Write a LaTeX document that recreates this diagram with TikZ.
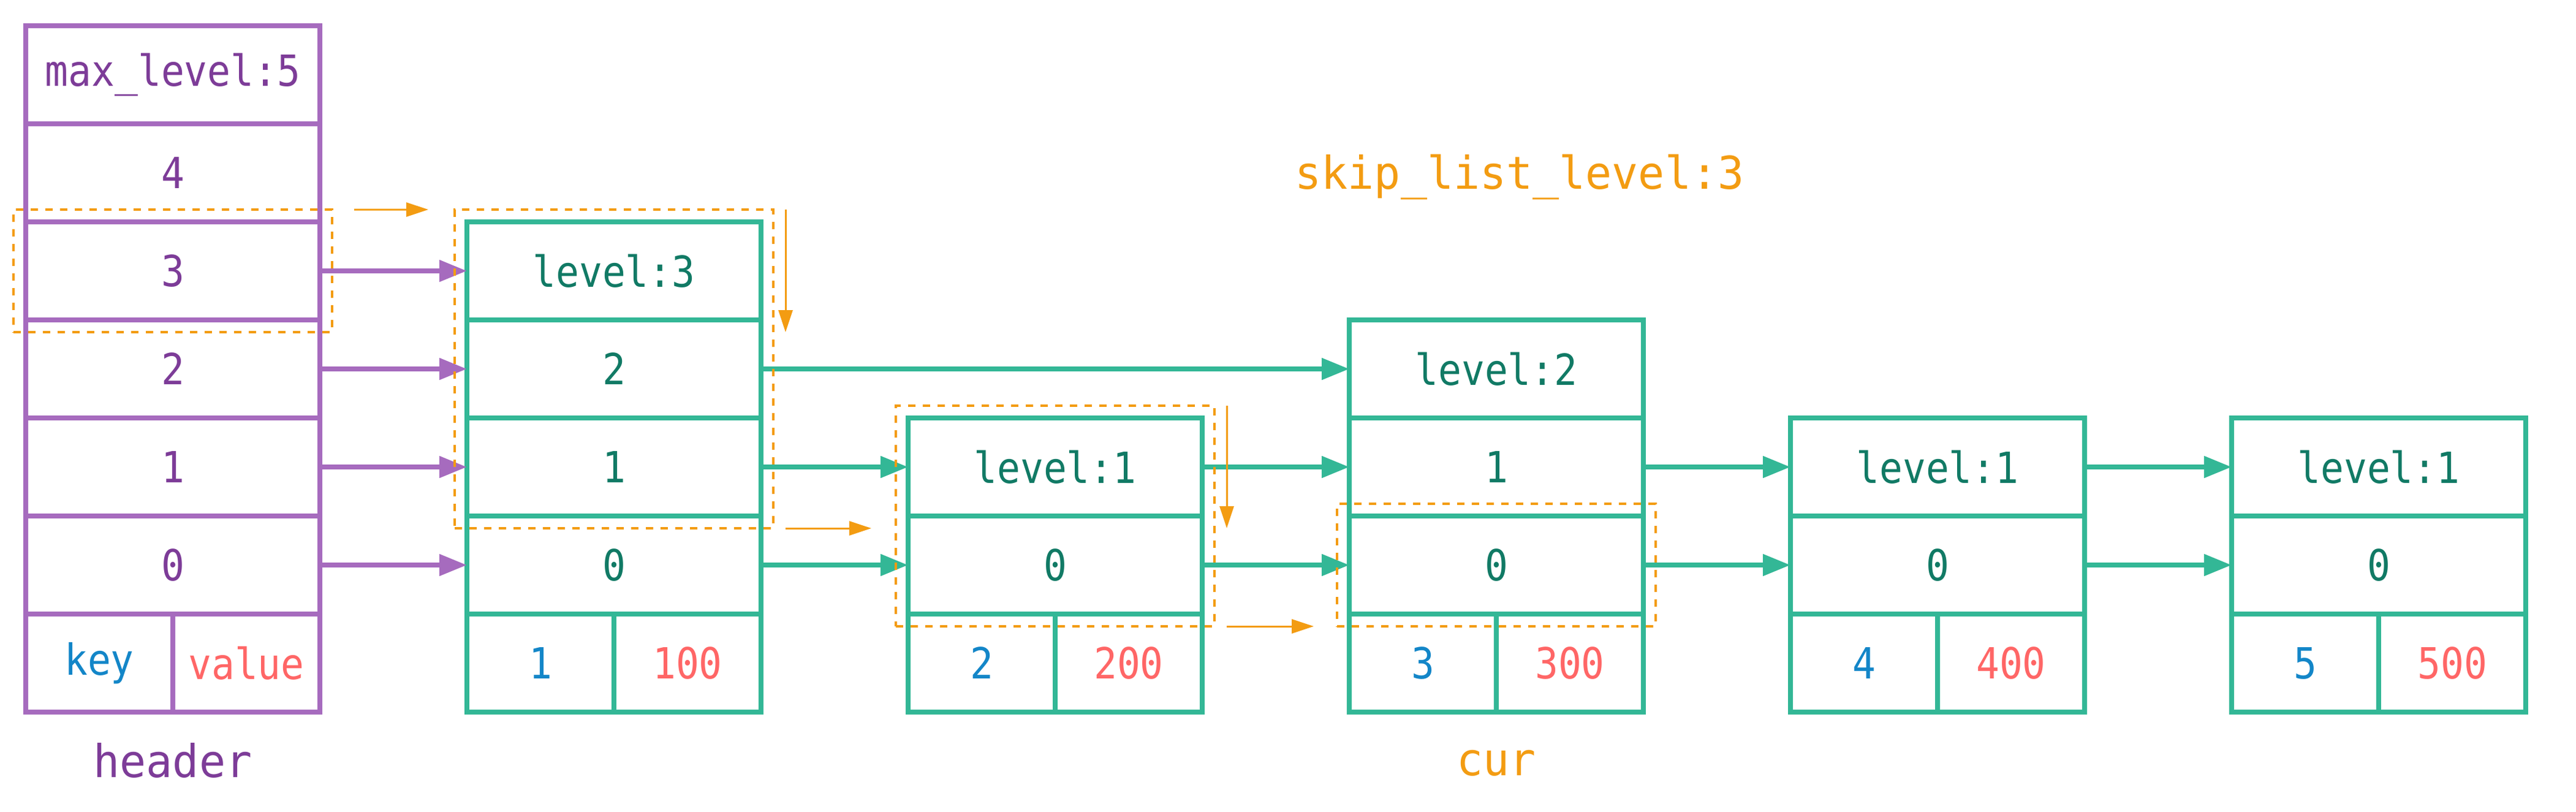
\documentclass[tikz,border=0pt]{standalone}
\usepackage{fontspec}
\setmonofont[FakeStretch=0.9]{DejaVu Sans Mono}
\newfontfamily\lblfont[FakeStretch=0.97]{DejaVu Sans Mono}
\definecolor{hpurple}{HTML}{A66BBE}
\definecolor{hpurpletext}{HTML}{7D3C98}
\definecolor{ngreen}{HTML}{33B796}
\definecolor{ngreentext}{HTML}{117A65}
\definecolor{kblue}{HTML}{1386C8}
\definecolor{vred}{HTML}{FF6666}
\definecolor{sorange}{HTML}{F39C12}
\usepackage{tikz}
\usetikzlibrary{arrows.meta,positioning,calc,fit}

\begin{document}
\begin{tikzpicture}[
  cell/.style={draw=#1, line width=0.08cm, minimum width=4.8cm, minimum height=1.6cm,
    inner sep=0pt, outer sep=0pt, anchor=north west,
    font=\ttfamily\fontsize{19.9}{24}\selectfont},
  half/.style={cell=#1, minimum width=2.4cm},
  link/.style={-{Triangle[length=0.45cm,width=0.34cm]}, line width=0.08cm, draw=#1},
  focus/.style={draw=sorange, line width=0.04cm, dash pattern=on 0.12cm off 0.12cm,
    inner sep=0.2cm, outer sep=0pt},
  hint/.style={-{Triangle[length=0.36cm,width=0.23cm]}, line width=0.03cm, sorange},
  lbl/.style={font=\lblfont\fontsize{21}{25}\selectfont, anchor=base}
]
  \useasboundingbox (0,0) rectangle (42.04,-13.24);

  % Header
  \node[cell=hpurple, text=hpurpletext] (hdr-t) at (0.42,-0.42) {max\_level:5};
  \foreach \j [count=\k] in {4,3,2,1,0}
    \node[cell=hpurple, text=hpurpletext] (hdr-\j) at (0.42,{-0.42-1.6*\k}) {\j};
  \node[half=hpurple, text=kblue] (hdr-k) at (0.42,-10.02) {key};
  \node[half=hpurple, text=vred] (hdr-v) at (2.82,-10.02) {value};

  % Skip list nodes
  \foreach \i/\lv/\nkey/\nval in {1/3/1/100,2/1/2/200,3/2/3/300,4/1/4/400,5/1/5/500}{
    \pgfmathsetmacro\x{0.42+7.2*\i}
    \pgfmathtruncatemacro\lvtop{\lv-1}
    \node[cell=ngreen, text=ngreentext] (n\i-t) at (\x,{-0.42-1.6*(5-\lv)}) {level:\lv};
    \foreach \j in {0,...,\lvtop}
      \node[cell=ngreen, text=ngreentext] (n\i-\j) at (\x,{-0.42-1.6*(5-\j)}) {\j};
    \node[half=ngreen, text=kblue] (n\i-k) at (\x,-10.02) {\nkey};
    \node[half=ngreen, text=vred] (n\i-v) at ({\x+2.4},-10.02) {\nval};
  }

  % Header pointers
  \foreach \a/\b in {3/t,2/2,1/1,0/0}
    \draw[link=hpurple] (hdr-\a.east) -- (n1-\b.west);

  % Forward pointers
  \foreach \a/\b in {n1-2/n3-t,n1-1/n2-t,n1-0/n2-0,n2-t/n3-1,n2-0/n3-0,
                     n3-1/n4-t,n3-0/n4-0,n4-t/n5-t,n4-0/n5-0}
    \draw[link=ngreen] (\a.east) -- (\b.west);

  % Search path
  \node[focus, fit=(hdr-3)] (f0) {};
  \node[focus, fit=(n1-t)(n1-1)] (f1) {};
  \node[focus, fit=(n2-t)(n2-0)] (f2) {};
  \node[focus, fit=(n3-0)] (f3) {};
  \coordinate (d1) at ($(f1.north east)+(0.2,0)$);
  \coordinate (d2) at ($(f2.north east)+(0.2,0)$);
  \draw[hint, shorten <=0.36cm, shorten >=0.43cm] (f0.north east) -- (f1.north west);
  \draw[hint] (d1) -- (d1 |- f0.south);
  \draw[hint, shorten >=0.4cm] (d1 |- f1.south) -- (f2.west |- f1.south);
  \draw[hint] (d2) -- (d2 |- f1.south);
  \draw[hint, shorten >=0.38cm] (d2 |- f2.south) -- (f3.west |- f2.south);

  % Labels
  \node[lbl, text=sorange] (lvl) at (24.80,-3.08) {skip\_list\_level:3};
  \node[lbl, text=hpurpletext] (hname) at (2.82,-12.68) {header};
  \node[lbl, text=sorange] (cur) at (24.42,-12.65) {cur};
\end{tikzpicture}
\end{document}
